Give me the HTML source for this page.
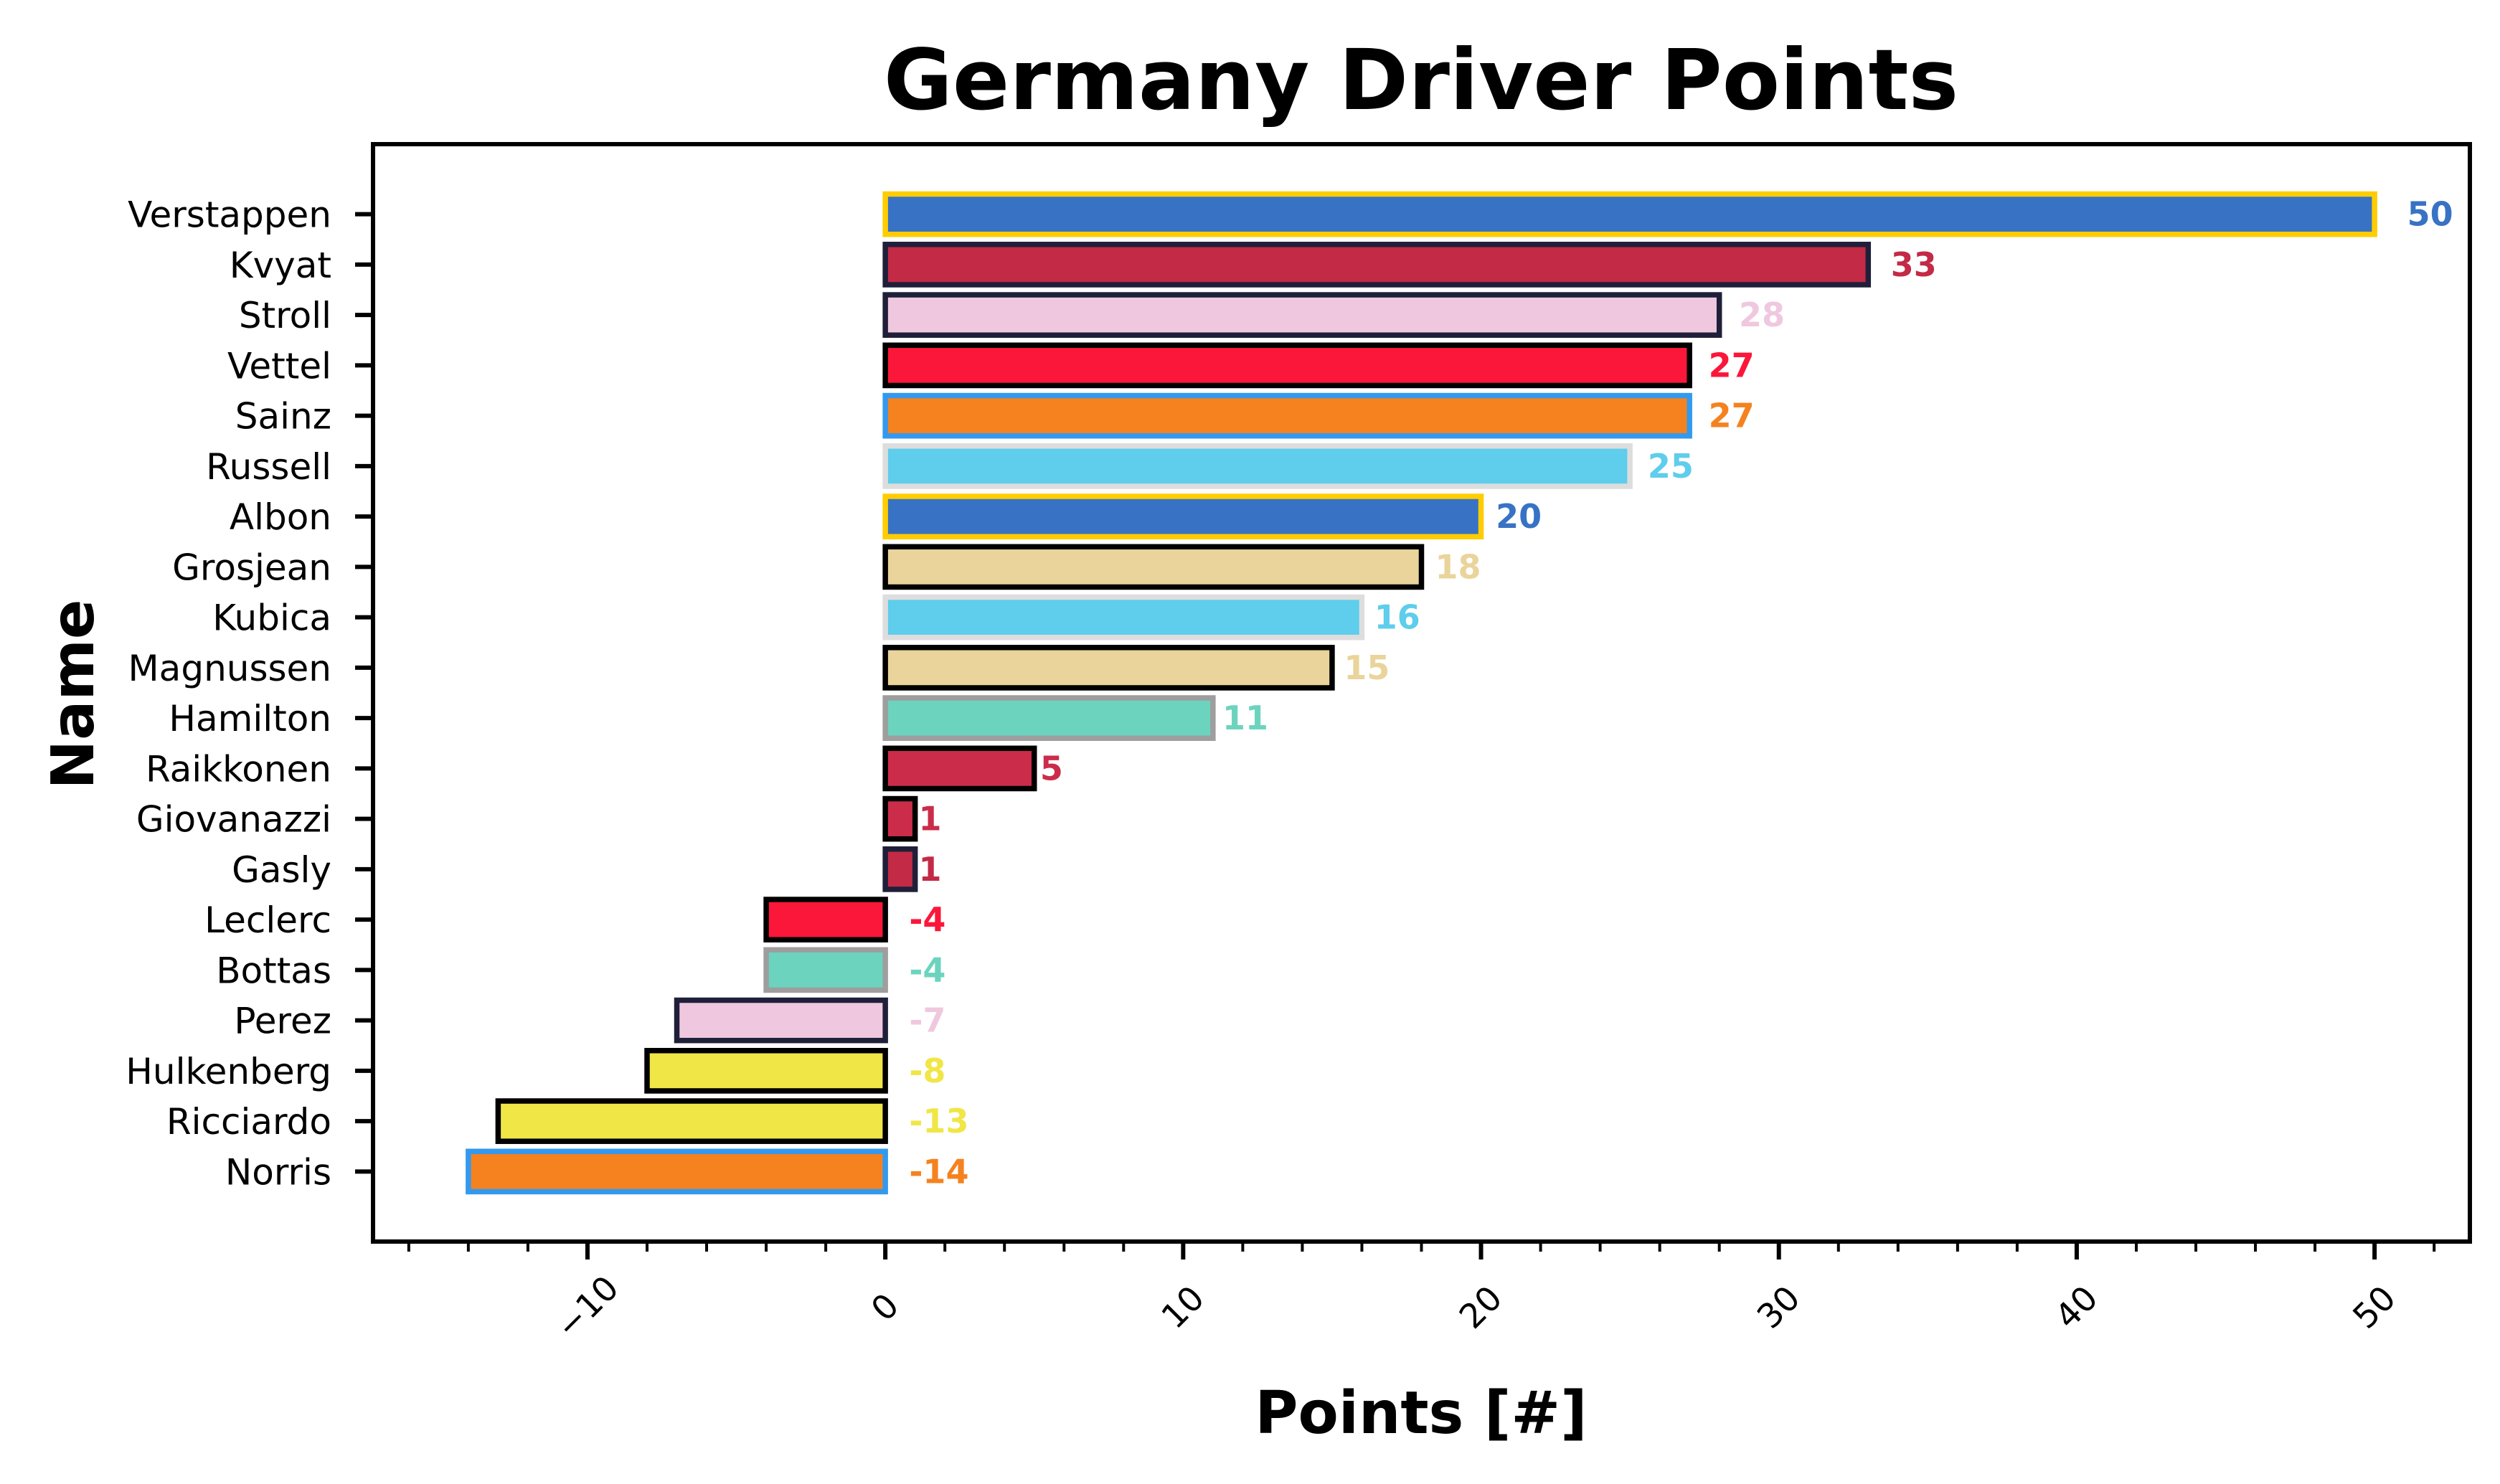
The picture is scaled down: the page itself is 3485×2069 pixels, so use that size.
<!DOCTYPE html>
<html><head><meta charset="utf-8"><style>
html,body{margin:0;padding:0;background:#fff}
svg text{font-family:"DejaVu Sans","Liberation Sans",sans-serif}
</style></head><body>
<svg id="chart" width="3485" height="2064" viewBox="0 0 3485 2064" xmlns="http://www.w3.org/2000/svg">
<rect width="3485" height="2064" fill="#fff"/>
<text x="1981" y="152" font-size="117" font-weight="bold" text-anchor="middle">Germany Driver Points</text>
<text x="1981" y="1998" font-size="82" font-weight="bold" text-anchor="middle">Points [#]</text>
<text transform="translate(130,968) rotate(-90)" font-size="82" font-weight="bold" text-anchor="middle">Name</text>
<g id="bars"></g>
<g id="ticks"></g>
<rect x="520" y="201" width="2923" height="1530" fill="none" stroke="#000" stroke-width="6"/>
</svg>
<script>
const names=["Verstappen","Kvyat","Stroll","Vettel","Sainz","Russell","Albon","Grosjean","Kubica","Magnussen","Hamilton","Raikkonen","Giovanazzi","Gasly","Leclerc","Bottas","Perez","Hulkenberg","Ricciardo","Norris"];
const points=[50,33,28,27,27,25,20,18,16,15,11,5,1,1,-4,-4,-7,-8,-13,-14];
const fills=["#3872c4","#c32a46","#efc8df","#fb1739","#f5821f","#5fcdec","#3872c4","#ead49b","#5fcdec","#ead49b","#6cd4be","#cb2c4a","#cb2c4a","#c32a46","#fb1739","#6cd4be","#efc8df","#f0e646","#f0e646","#f5821f"];
const edges=["#ffcc00","#1f1f3a","#1f1f3a","#000000","#3399ee","#dddddd","#ffcc00","#000000","#dddddd","#000000","#9e9e9e","#000000","#000000","#1f1f3a","#000000","#9e9e9e","#1f1f3a","#000000","#000000","#3399ee"];
const xTicks=[-10,0,10,20,30,40,50];
const xTickLabels=["\u221210","0","10","20","30","40","50"];
const xMin=-17.2,xMax=53.2,L=520,R=3443,T=201,B=1731;
const n=names.length, yMin=-1.39, yMax=n-1+1.39;
const xs=v=>L+(v-xMin)/(xMax-xMin)*(R-L);
const ys=i=>T+(i-yMin)/(yMax-yMin)*(B-T);
const NS="http://www.w3.org/2000/svg";
const bars=document.getElementById('bars'), ticks=document.getElementById('ticks');
const bh=0.8*(B-T)/(yMax-yMin);
function mk(tag,attrs,parent){const e=document.createElementNS(NS,tag);for(const k in attrs)e.setAttribute(k,attrs[k]);parent.appendChild(e);return e;}
names.forEach((nm,i)=>{
  const v=points[i], x0=xs(Math.min(0,v)), x1=xs(Math.max(0,v)), y=ys(i);
  const r=mk('rect',{x:x0,y:y-bh/2,width:x1-x0,height:bh,fill:fills[i],stroke:edges[i],'stroke-width':7.5},bars);
  
  
  const lx=v>=0?xs(v*1.02)+4:xs(0.8);
  const t=mk('text',{x:lx,y:y+16,'font-size':46,'font-weight':'bold',fill:fills[i]},bars);
  t.textContent=String(v);
  
  
  const tk=mk('line',{x1:L-25,x2:L,y1:y,y2:y,stroke:'#000','stroke-width':6},ticks);
  
  
  const tl=mk('text',{x:L-58,y:y+18,'font-size':50,'text-anchor':'end'},ticks);
  tl.textContent=nm;
  
  
});
for(let v=-16;v<=52;v+=2){
  const major=xTicks.indexOf(v)>=0;
  const ln=mk('line',{x1:xs(v),x2:xs(v),y1:B,y2:B+(major?25:14),stroke:'#000','stroke-width':major?6:4},ticks);
  
  
}
xTicks.forEach((v,i)=>{
  const t=mk('text',{transform:`translate(${xs(v)},${B+92}) rotate(-45)`,'font-size':47,'text-anchor':'middle','dominant-baseline':'central'},ticks);
  t.textContent=xTickLabels[i];
  
  
});
</script>
</body></html>
